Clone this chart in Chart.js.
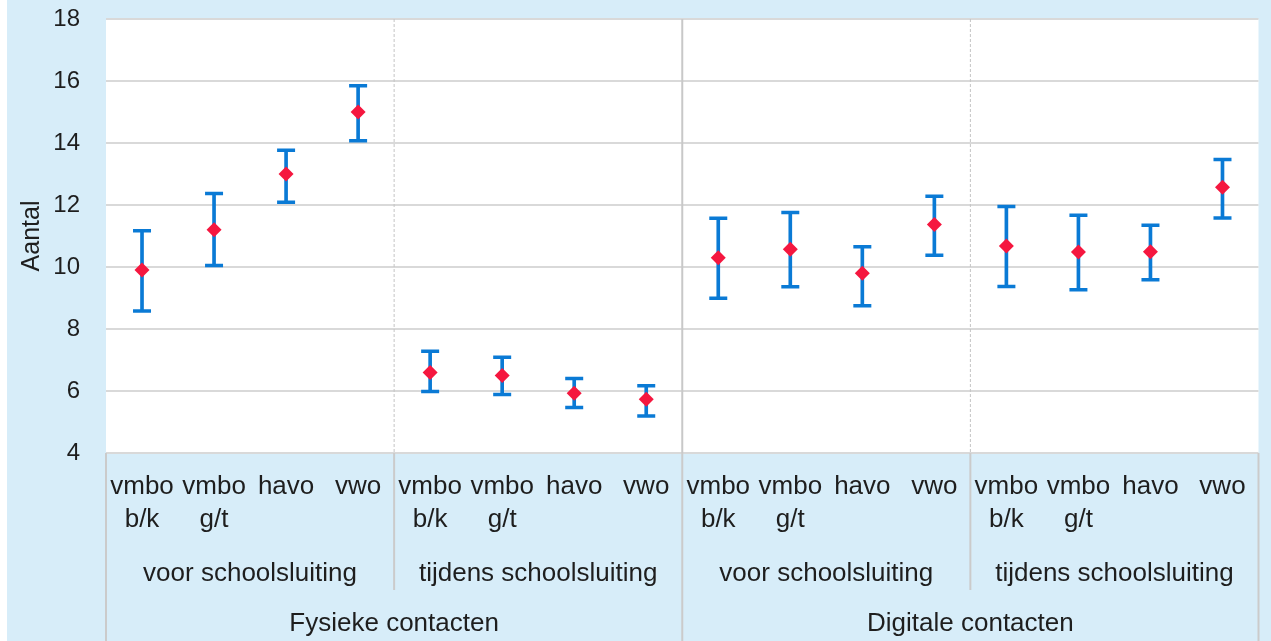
<!DOCTYPE html>
<html><head><meta charset="utf-8">
<script src="https://cdn.jsdelivr.net/npm/chart.js@4.4.0/dist/chart.umd.min.js"></script>
<style>
html,body{margin:0;padding:0;background:#fff;}
#wrap{position:absolute;left:7px;top:0;width:1264px;height:641px;background:#d7edf9;}
canvas{display:block;}
</style></head><body>
<div id="wrap"><canvas id="c" width="1264" height="641"></canvas></div>
<script>
// ---- data ----
const categories = [
  ['vmbo','b/k'], ['vmbo','g/t'], 'havo', 'vwo',
  ['vmbo','b/k'], ['vmbo','g/t'], 'havo', 'vwo',
  ['vmbo','b/k'], ['vmbo','g/t'], 'havo', 'vwo',
  ['vmbo','b/k'], ['vmbo','g/t'], 'havo', 'vwo'
];
const periods = ['voor schoolsluiting', 'tijdens schoolsluiting', 'voor schoolsluiting', 'tijdens schoolsluiting'];
const contactTypes = ['Fysieke contacten', 'Digitale contacten'];
const means = [9.9, 11.2, 13.0, 15.0, 6.6, 6.5, 5.93, 5.73, 10.3, 10.57, 9.8, 11.37, 10.68, 10.48, 10.49, 12.57];
const lower = [8.58, 10.05, 12.09, 14.07, 5.98, 5.89, 5.47, 5.19, 8.99, 9.36, 8.75, 10.38, 9.37, 9.27, 9.59, 11.58];
const upper = [11.17, 12.37, 13.77, 15.85, 7.28, 7.09, 6.4, 6.17, 11.57, 11.76, 10.65, 12.28, 11.95, 11.67, 11.35, 13.47];
const yTicks = [4, 6, 8, 10, 12, 14, 16, 18];

const BLUE = '#0a7ad5';
const RED = '#f5173f';
const TEXT = '#1e1e1e';
const FONT = 'Liberation Sans, Arial, sans-serif';

const plotBg = {
  id: 'plotBg',
  beforeDraw(chart) {
    const {ctx, chartArea: a} = chart;
    ctx.save();
    ctx.fillStyle = '#ffffff';
    ctx.fillRect(a.left, a.top, a.right - a.left, a.bottom - a.top);
    ctx.restore();
  }
};

function vline(ctx, x, y1, y2) {
  ctx.beginPath(); ctx.moveTo(x, y1); ctx.lineTo(x, y2); ctx.stroke();
}

const separators = {
  id: 'separators',
  beforeDatasetsDraw(chart) {
    const {ctx, chartArea: a, scales: {x}} = chart;
    const perGroup = categories.length / periods.length;
    const perType = categories.length / contactTypes.length;
    ctx.save();
    for (let g = 1; g < periods.length; g++) {
      const v = g * perGroup - 0.5;
      const px = x.getPixelForValue(v);
      if ((g * perGroup) % perType === 0) {
        ctx.setLineDash([]); ctx.strokeStyle = '#c8c8c8'; ctx.lineWidth = 2;
      } else {
        ctx.setLineDash([3, 2]); ctx.strokeStyle = '#c4c4c4'; ctx.lineWidth = 1;
      }
      vline(ctx, px, a.top, a.bottom);
    }
    ctx.restore();
  },
  afterDraw(chart) {
    const {ctx, chartArea: a, scales: {x, x2}} = chart;
    const perGroup = categories.length / periods.length;
    const perType = categories.length / contactTypes.length;
    ctx.save();
    ctx.strokeStyle = '#cbcbcb'; ctx.lineWidth = 2;
    for (let g = 0; g <= periods.length; g++) {
      const v = g * perGroup - 0.5;
      const px = x.getPixelForValue(v);
      const full = (g * perGroup) % perType === 0;
      vline(ctx, px, a.bottom, full ? chart.height : x2.bottom);
    }
    ctx.restore();
  }
};

const xFont = {family: FONT, size: 26, lineHeight: 1.27};

new Chart(document.getElementById('c'), {
  type: 'bar',
  data: {
    labels: categories,
    datasets: [
      {
        type: 'line', label: 'gemiddelde', data: means, showLine: false,
        pointStyle: 'rectRot', pointRadius: 7.5, pointHoverRadius: 7.5,
        pointBackgroundColor: RED, pointBorderColor: RED, pointBorderWidth: 0, order: 0
      },
      {
        type: 'line', label: 'boven', data: upper, showLine: false,
        pointStyle: 'line', pointRadius: 9, pointHoverRadius: 9,
        pointBorderColor: BLUE, pointBorderWidth: 3.5, order: 1
      },
      {
        type: 'line', label: 'onder', data: lower, showLine: false,
        pointStyle: 'line', pointRadius: 9, pointHoverRadius: 9,
        pointBorderColor: BLUE, pointBorderWidth: 3.5, order: 1
      },
      {
        type: 'bar', label: 'interval', data: lower.map((l, i) => [l, upper[i]]),
        backgroundColor: BLUE, borderWidth: 0, barThickness: 3, grouped: false, order: 2
      }
    ]
  },
  options: {
    responsive: false,
    devicePixelRatio: 1,
    animation: false,
    layout: {padding: {top: 19, right: 12, left: 0, bottom: 0}},
    plugins: {legend: {display: false}, tooltip: {enabled: false}},
    scales: {
      x: {
        offset: true,
        grid: {display: false, drawTicks: false},
        border: {display: false},
        ticks: {font: xFont, color: TEXT, padding: 17, maxRotation: 0, minRotation: 0, autoSkip: false},
        afterFit(scale) { scale.height = 82.5; },
        weight: 0
      },
      x2: {
        type: 'category', position: 'bottom', labels: periods, offset: true,
        grid: {display: false, drawTicks: false}, border: {display: false},
        ticks: {font: xFont, color: TEXT, padding: 21.5, maxRotation: 0, minRotation: 0, autoSkip: false},
        afterFit(scale) { scale.height = 54.5; },
        weight: 1
      },
      x3: {
        type: 'category', position: 'bottom', labels: contactTypes, offset: true,
        grid: {display: false, drawTicks: false}, border: {display: false},
        ticks: {font: xFont, color: TEXT, padding: 17.5, maxRotation: 0, minRotation: 0, autoSkip: false},
        afterFit(scale) { scale.height = 51; },
        weight: 2
      },
      y: {
        min: yTicks[0], max: yTicks[yTicks.length - 1],
        afterBuildTicks(scale) { scale.ticks = yTicks.map(v => ({value: v})); },
        afterFit(scale) { scale.width = 99; scale.paddingTop = 0; scale.paddingBottom = 0; },
        grid: {color: '#d9d9d9', lineWidth: 2, drawTicks: false},
        border: {display: false},
        ticks: {font: {family: FONT, size: 24}, color: TEXT, padding: 26},
        title: {display: true, text: 'Aantal', font: {family: FONT, size: 25}, color: TEXT, padding: {top: 10, bottom: 0}}
      }
    }
  },
  plugins: [plotBg, separators]
});
</script>
</body></html>
